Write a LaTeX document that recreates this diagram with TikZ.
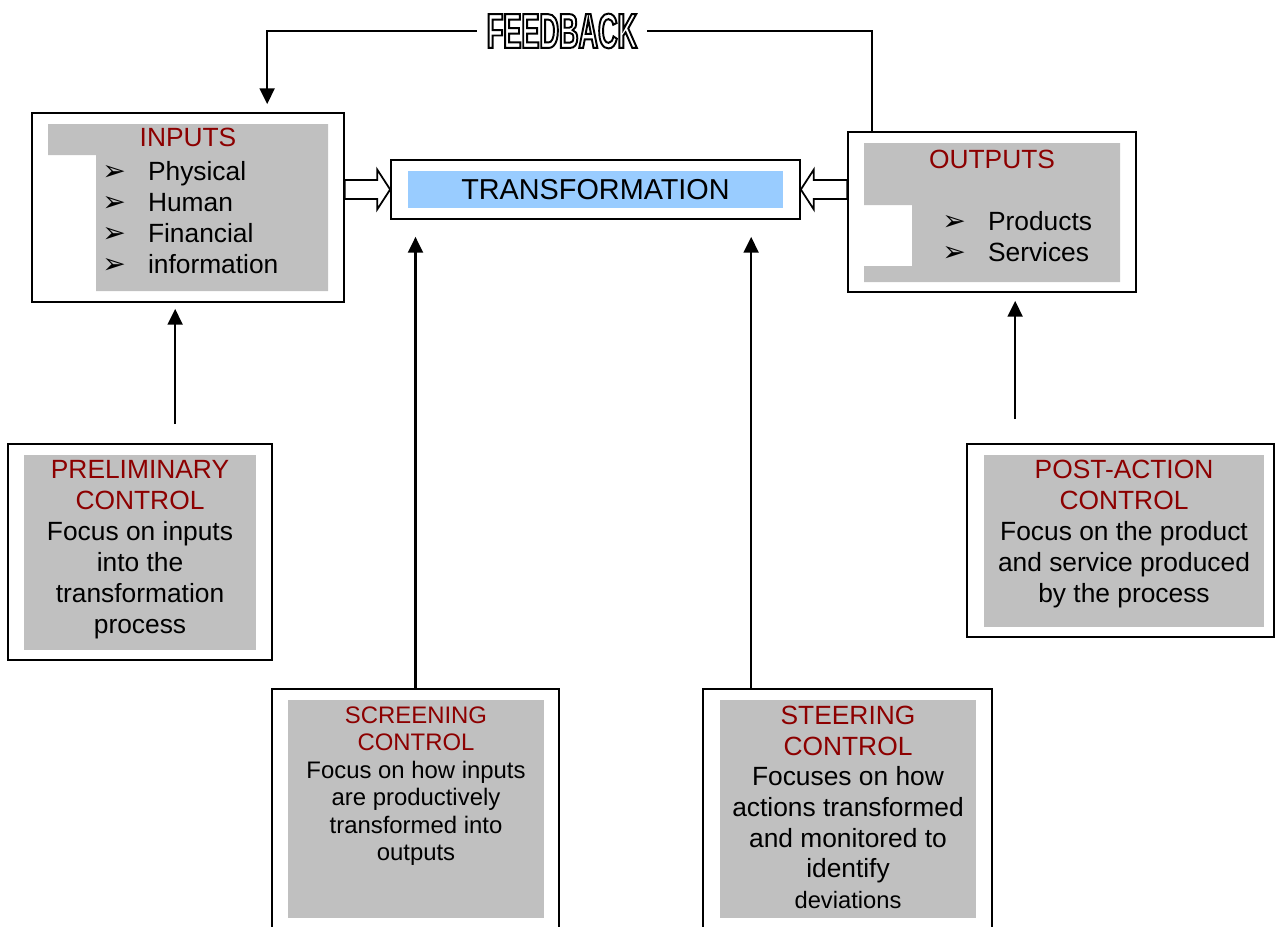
\documentclass[tikz,border=0pt]{standalone}
\usepackage{fontspec}
\setmainfont{Liberation Sans}
\newfontfamily\bulletfont{DejaVu Sans}
\newfontfamily\fbfont[FakeStretch=0.55]{Liberation Sans Bold}
\usetikzlibrary{arrows.meta}
\usetikzlibrary{calc}
\usetikzlibrary{positioning}

\definecolor{titlered}{RGB}{140,0,0}
\definecolor{boxgrey}{RGB}{192,192,192}
\definecolor{skyblue}{RGB}{153,204,255}

\newcommand{\ttl}[1]{\textcolor{titlered}{#1}}
\newcommand{\bul}{\makebox[26pt][l]{\bulletfont\fontsize{16}{16}\selectfont ➢}}
\newcommand{\outlined}[1]{\special{pdf:literal direct 1 Tr 1.1 w}#1\special{pdf:literal direct 0 Tr}}
% #1 tail, #2 tip, #3 head base offset
\newcommand{\hollowarrow}[3]{%
  \draw[hollowarr] (#2) -- ++(#3,-20) -- ++(0,10.5) -- ($(#1)+(0,-9.5)$)
    -- ($(#1)+(0,9.5)$) -- ($(#2)+(#3,9.5)$) -- ++(0,10.5) -- cycle;}

\tikzset{
  outerbox/.style={draw, line width=1pt, inner sep=0pt},
  arr/.style={-{Triangle[length=9pt,width=8.5pt]}, line width=1.2pt},
  hollowarr/.style={draw, fill=white, line width=1pt, line join=miter},
  ctrl/.style={align=center, inner sep=0pt, font=\fontsize{15}{17.6}\selectfont},
}

\begin{document}
\begin{tikzpicture}[x=0.02cm, y=-0.02cm]
  \useasboundingbox (0,0) rectangle (1276,927);

  % boxes
  \node[outerbox, minimum width=6.24cm, minimum height=3.78cm] (inputs) at (188,207.5) {};
  \node[outerbox, minimum width=8.18cm, minimum height=1.18cm] (trans) at (595.5,189.5) {};
  \node[outerbox, minimum width=5.76cm, minimum height=3.2cm] (outputs) at (992,212) {};
  \node[outerbox, minimum width=5.28cm, minimum height=4.32cm] (prelim) at (140,552) {};
  \node[outerbox, minimum width=6.14cm, minimum height=3.86cm] (postaction) at (1120.5,540.5) {};
  \node[outerbox, minimum width=5.74cm, minimum height=5.42cm] (screening) at (415.5,824.5) {};
  \node[outerbox, minimum width=5.78cm, minimum height=5.42cm] (steering) at (847.5,824.5) {};

  % grey panels
  \fill[boxgrey] (48,124) -| (328,291) -| (96,155) -| cycle;
  \fill[boxgrey] (864,143) -| (1120,282) -| (864,266) -| (912,205) -| cycle;
  \fill[boxgrey] (24,455) rectangle (256,650);
  \fill[boxgrey] (984,455) rectangle (1264,627);
  \fill[boxgrey] (288,700) rectangle (544,918);
  \fill[boxgrey] (720,700) rectangle (976,918);

  \node[fill=skyblue, minimum width=7.5cm, minimum height=0.74cm, font=\fontsize{16.4}{18}\selectfont] (transtext) at (trans) {TRANSFORMATION};

  % texts
  \node[anchor=north, inner sep=0pt, font=\fontsize{15}{17.6}\selectfont] (inputstitle) at (188,128) {\ttl{INPUTS}};
  \node[anchor=north west, align=left, inner sep=0pt, font=\fontsize{15}{17.6}\selectfont] (inputlist) at (102,161)
    {\bul Physical\\\bul Human\\\bul Financial\\\bul information};
  \node[anchor=north, inner sep=0pt, font=\fontsize{15}{17.6}\selectfont] (outputstitle) at (992,150) {\ttl{OUTPUTS}};
  \node[anchor=north west, align=left, inner sep=0pt, font=\fontsize{15}{17.6}\selectfont] (outputlist) at (942,211)
    {\bul Products\\\bul Services};
  \node[ctrl, anchor=north] (prelimtext) at (140,460)
    {\ttl{PRELIMINARY}\\\ttl{CONTROL}\\Focus on inputs\\into the\\transformation\\process};
  \node[ctrl, anchor=north] (posttext) at (1124,460)
    {\ttl{POST-ACTION}\\\ttl{CONTROL}\\Focus on the product\\and service produced\\by the process};
  \node[ctrl, anchor=north, font=\fontsize{13.6}{15.7}\selectfont] (screentext) at (416,706)
    {\ttl{SCREENING}\\\ttl{CONTROL}\\Focus on how inputs\\are productively\\transformed into\\outputs};
  \node[ctrl, anchor=north, font=\fontsize{15}{17.4}\selectfont] (steertext) at (848,706)
    {\ttl{STEERING}\\\ttl{CONTROL}\\Focuses on how\\actions transformed\\and monitored to\\identify\\{\fontsize{13.5}{15}\selectfont deviations}};

  % hollow arrows into the transformation
  \coordinate (intail) at (inputs.east |- trans.west);
  \coordinate (outtail) at (outputs.west |- trans.east);
  \hollowarrow{intail}{trans.west}{-13}
  \hollowarrow{outtail}{trans.east}{13}

  % control arrows
  \coordinate (prelimtail) at ($(prelim.north west)+(168,0)$);
  \coordinate (steertail) at ($(steering.north west)+(49,0)$);
  \coordinate (posttail) at ($(postaction.north west)+(49,0)$);
  \draw[arr, shorten <=0.38cm, shorten >=0.12cm] (prelimtail) -- (prelimtail |- inputs.south);
  \draw[arr, shorten >=0.34cm] (screening.north) -- (screening.north |- trans.south);
  \draw[arr, shorten >=0.34cm] (steertail) -- (steertail |- trans.south);
  \draw[arr, shorten <=0.48cm, shorten >=0.16cm] (posttail) -- (posttail |- outputs.south);

  % feedback loop
  \node[fill=white, inner xsep=5.5pt, inner ysep=0pt, font=\fbfont\fontsize{28}{28}\selectfont] (feedback) at (562,31) {\outlined{FEEDBACK}};
  \coordinate (fbout) at ($(outputs.north west)+(25,0)$);
  \coordinate (fbin) at ($(inputs.north west)+(236,0)$);
  \draw[line width=1.2pt] (feedback.east) -| (fbout);
  \draw[arr, shorten >=0.16cm] (feedback.west) -| (fbin);
\end{tikzpicture}
\end{document}
